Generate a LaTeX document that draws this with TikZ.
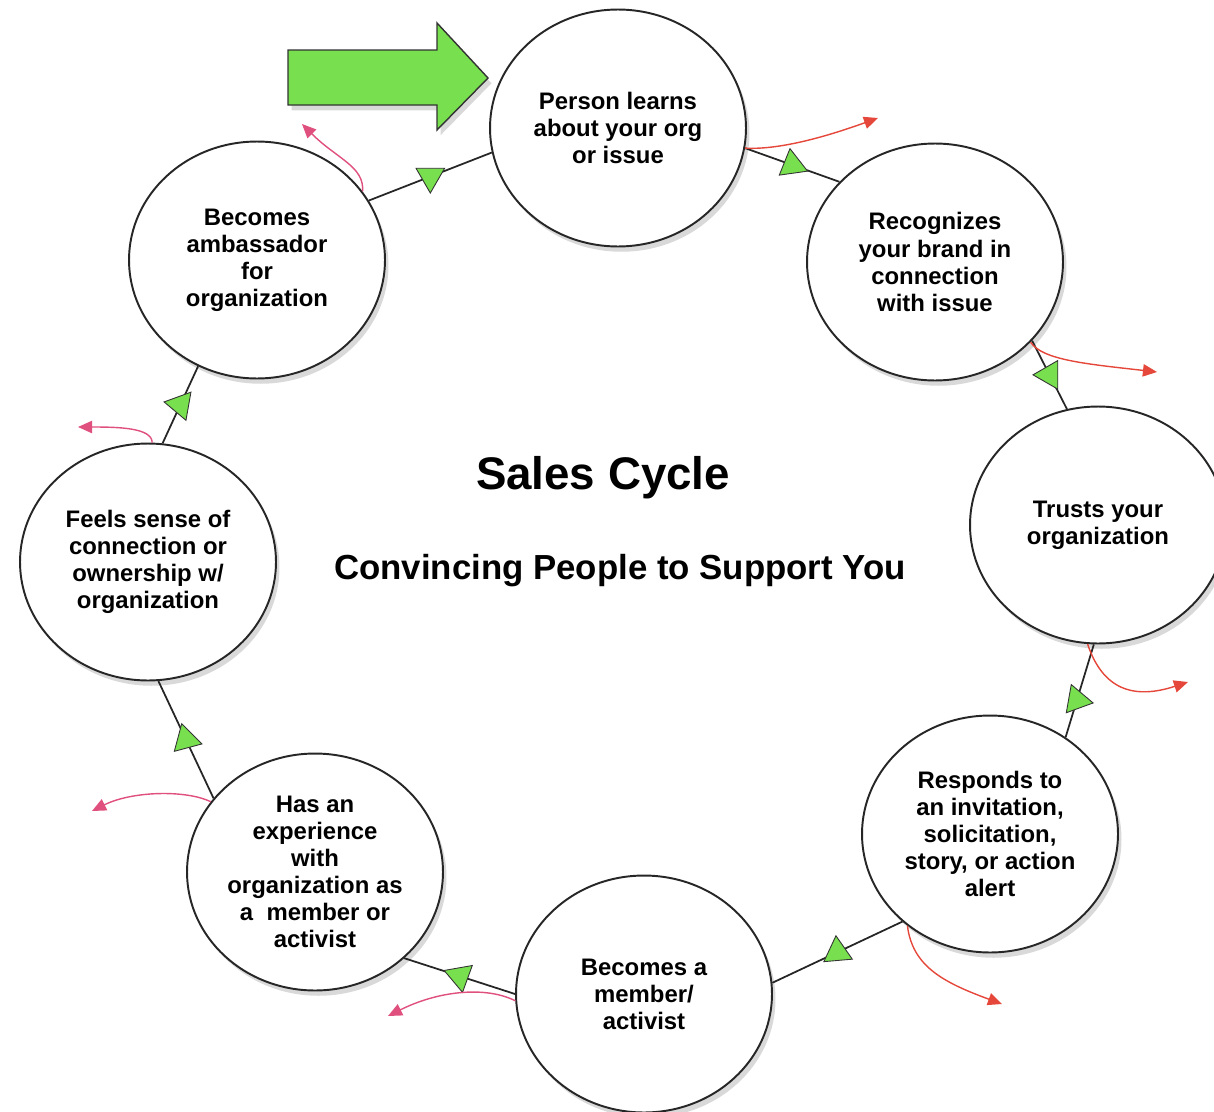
\documentclass[tikz,border=0pt]{standalone}
\usepackage{fontspec}
\setmainfont{Liberation Sans}
\usetikzlibrary{shapes.geometric,arrows.meta,shadows}
\definecolor{arrowgreen}{HTML}{78E04E}
\definecolor{leakred}{HTML}{E5483A}
\definecolor{leakpink}{HTML}{E0507E}
\tikzset{
  stage/.style={ellipse, draw=black!85, line width=1.1pt, fill=white,
    minimum width=5.12cm, minimum height=4.74cm, inner sep=0pt, align=center,
    font=\fontsize{13.6}{15.4}\selectfont\bfseries,
    drop shadow={opacity=0.3, shadow xshift=2pt, shadow yshift=-3pt}},
  link/.style={draw=black!85, line width=1pt},
  tri/.style={regular polygon, regular polygon sides=3, draw=black!80, line width=0.5pt,
    fill=arrowgreen, minimum size=0.66cm, inner sep=0pt},
  leak/.style={line width=0.8pt, -{Triangle[length=8pt,width=7pt]}},
}
\begin{document}
\begin{tikzpicture}[x=0.02cm,y=-0.02cm]
\useasboundingbox (0,0) rectangle (1214,1112);

% the cycle
\node[stage] (learn) at (618,128) {Person learns\\about your org\\or issue};
\node[stage] (brand) at (935,262) {Recognizes\\your brand in\\connection\\with issue};
\node[stage] (trust) at (1098,525) {Trusts your\\organization};
\node[stage] (respond) at (990,834) {Responds to\\an invitation,\\solicitation,\\story, or action\\alert};
\node[stage] (member) at (644,994) {Becomes a\\member/\\activist};
\node[stage] (experience) at (315,872) {Has an\\experience\\with\\organization as\\a~ member or\\activist};
\node[stage] (feels) at (148,562) {Feels sense of\\connection or\\ownership w/\\organization};
\node[stage] (ambassador) at (257,260) {Becomes\\ambassador\\for\\organization};

\node (title) at (603,478) {\fontsize{26}{30}\selectfont\bfseries Sales Cycle};
\node (sub) at (620,571) {\fontsize{19.8}{24}\selectfont\bfseries Convincing People to Support You};

% entry arrow
\draw[draw=black!80, line width=0.8pt, fill=arrowgreen,
  drop shadow={opacity=0.3, shadow xshift=2pt, shadow yshift=-3pt}]
  (288,50) -- (437,50) -- (437,23) -- (488,78) -- (437,130) -- (437,105) -- (288,105) -- cycle;

% links
\draw[link] (ambassador.28) -- node[tri, rotate=180] {} (learn.191);
\draw[link] (learn.-9) -- node[tri, rotate=8] {} (brand.140);
\draw[link] (brand.-39) -- node[tri, rotate=90] {} (trust.105);
\draw[link] (trust.-92) -- node[tri, rotate=-100, pos=.6] {} (respond.52);
\draw[link] (respond.-135) -- node[tri, rotate=5] {} (member.5);
\draw[link] (member.180) -- node[tri, rotate=190] {} (experience.-44);
\draw[link] (experience.144) -- node[tri, rotate=15] {} (feels.-85);
\draw[link] (feels.83) -- node[tri, rotate=80] {} (ambassador.-119);

% people dropping out
\coordinate (out1) at (878,118);
\coordinate (out2) at (1157,372);
\coordinate (out3) at (1188,682);
\coordinate (out4) at (1002,1004);
\coordinate (out5) at (388,1016);
\coordinate (out6) at (92,811);
\coordinate (out7) at (78,427);
\coordinate (out8) at (302,124);
\draw[leak, leakred] (learn.-9) .. controls +(35,2) and +(-50,18) .. (out1);
\draw[leak, leakred] (brand.-40) .. controls +(12,18) and +(-70,-8) .. (out2);
\draw[leak, leakred] (trust.-95) .. controls +(15,45) and +(-55,18) .. (out3);
\draw[leak, leakred] (respond.-132) .. controls +(5,40) and +(-60,-22) .. (out4);
\draw[leak, leakpink] (member.183) .. controls +(-30,-15) and +(50,-25) .. (out5);
\draw[leak, leakpink] (experience.146) .. controls +(-25,-12) and +(40,-20) .. (out6);
\draw[leak, leakpink] (feels.88) .. controls +(0,-15) and +(40,0) .. (out7);
\draw[leak, leakpink] (ambassador.33) .. controls +(2,-25) and +(35,35) .. (out8);
\end{tikzpicture}
\end{document}
